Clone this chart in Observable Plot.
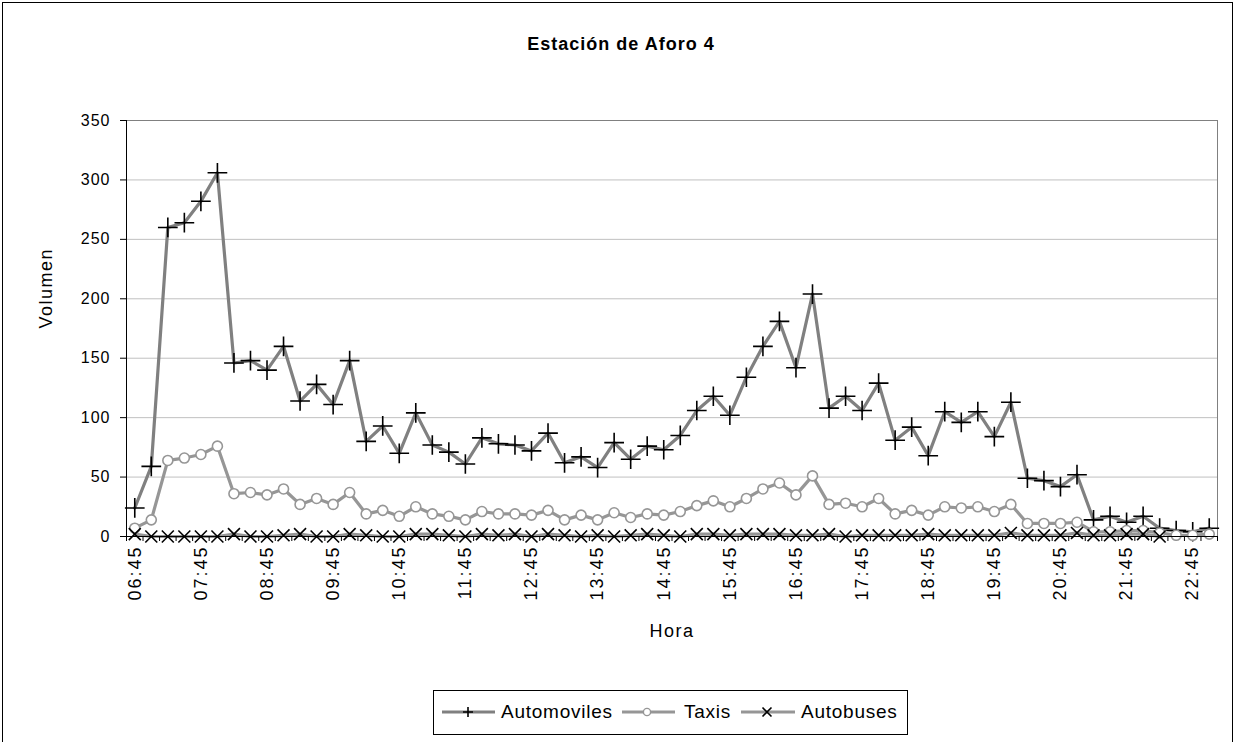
<!DOCTYPE html>
<html><head><meta charset="utf-8">
<script src="https://cdn.jsdelivr.net/npm/d3@7"></script>
<script src="https://cdn.jsdelivr.net/npm/@observablehq/plot@0.6"></script>
<style>
html,body{margin:0;padding:0;background:#fff;overflow:hidden;}
#wrap{position:relative;width:1236px;height:742px;font-family:"Liberation Sans",Arial,sans-serif;}
#frame{position:absolute;left:2px;top:2px;width:1229px;height:760px;border:1px solid #000;}
#title{position:absolute;left:0;width:1242px;top:34px;text-align:center;font-size:18px;font-weight:bold;letter-spacing:1px;}
#chart{position:absolute;left:0;top:0;}
#legend{position:absolute;left:433px;top:690px;}
#chart svg [aria-label="y-axis tick label"] text{letter-spacing:1px;}
#chart svg [aria-label="x-axis tick label"] text{letter-spacing:2px;}
#chart svg [aria-label="text"] text{letter-spacing:1.5px;}
</style></head>
<body>
<div id="wrap">
  <div id="frame"></div>
  <div id="title">Estación de Aforo 4</div>
  <div id="chart"></div>
  <div id="legend">
    <svg width="476" height="46" font-family="Liberation Sans, Arial, sans-serif">
      <rect x="0.5" y="0.5" width="474" height="44" fill="#fff" stroke="#000"/>
      <line x1="9" x2="62" y1="22" y2="22" stroke="#808080" stroke-width="3.2"/>
      <path d="M30,22h10M35,17v10" stroke="#000" stroke-width="1.6" fill="none"/>
      <text x="68" y="28" font-size="19" letter-spacing="0.75">Automoviles</text>
      <line x1="189" x2="242" y1="22" y2="22" stroke="#969696" stroke-width="3.2"/>
      <circle cx="214" cy="22" r="3.6" fill="#fff" stroke="#969696" stroke-width="1.4"/>
      <text x="251" y="28" font-size="19" letter-spacing="0.75">Taxis</text>
      <line x1="308" x2="362" y1="22" y2="22" stroke="#969696" stroke-width="3.2"/>
      <path d="M329.5,17.5l9,9M338.5,17.5l-9,9" stroke="#000" stroke-width="1.6" fill="none"/>
      <text x="368" y="28" font-size="19" letter-spacing="0.75">Autobuses</text>
    </svg>
  </div>
</div>
<script>
const times = ["06:45","07:00","07:15","07:30","07:45","08:00","08:15","08:30","08:45","09:00","09:15","09:30","09:45","10:00","10:15","10:30","10:45","11:00","11:15","11:30","11:45","12:00","12:15","12:30","12:45","13:00","13:15","13:30","13:45","14:00","14:15","14:30","14:45","15:00","15:15","15:30","15:45","16:00","16:15","16:30","16:45","17:00","17:15","17:30","17:45","18:00","18:15","18:30","18:45","19:00","19:15","19:30","19:45","20:00","20:15","20:30","20:45","21:00","21:15","21:30","21:45","22:00","22:15","22:30","22:45","23:00"];
const xTickLabels = ["06:45","07:45","08:45","09:45","10:45","11:45","12:45","13:45","14:45","15:45","16:45","17:45","18:45","19:45","20:45","21:45","22:45"];
const yTicks = [0,50,100,150,200,250,300,350];
const automoviles = [24,59,260,264,282,306,146,148,140,160,114,128,111,148,80,93,70,104,77,71,61,83,78,77,72,87,62,67,58,79,65,76,73,85,106,118,102,134,160,181,142,204,108,118,106,129,81,92,68,105,96,105,84,113,49,47,42,52,14,17,12,17,7,5,4,7];
const taxis = [7,14,64,66,69,76,36,37,35,40,27,32,27,37,19,22,17,25,19,17,14,21,19,19,18,22,14,18,14,20,16,19,18,21,26,30,25,32,40,45,35,51,27,28,25,32,19,22,18,25,24,25,21,27,11,11,11,12,4,4,5,5,3,1,1,2];
const autobuses = [2,0,0,0,0,0,2,0,0,1,2,0,0,2,1,0,0,2,2,1,0,2,1,2,0,2,1,0,1,0,1,2,1,0,2,2,1,2,2,2,1,1,2,0,1,1,1,1,2,1,1,1,1,3,1,1,1,3,1,1,2,2,0,null,null,null];

const mk = arr => arr.map((v, i) => ({i, v}));
const A = mk(automoviles), T = mk(taxis), B = mk(autobuses).filter(d => d.v != null);
const n = times.length;
const boundaries = d3.range(n + 1).map(k => k - 0.5);
const labelIdx = xTickLabels.map(t => times.indexOf(t));

const chart = Plot.plot({
  width: 1236, height: 742,
  marginLeft: 126, marginRight: 19, marginTop: 120, marginBottom: 206,
  style: {fontFamily: '"Liberation Sans", Arial, sans-serif', background: "transparent", color: "#000"},
  x: {type: "linear", domain: [-0.5, n - 0.5]},
  y: {domain: [0, 350]},
  marks: [
    Plot.gridY({ticks: [50,100,150,200,250,300], stroke: "#c0c0c0", strokeOpacity: 1}),
    Plot.ruleY([350], {stroke: "#808080"}),
    Plot.ruleX([n - 0.5], {stroke: "#808080"}),
    Plot.line(A, {x: "i", y: "v", stroke: "#808080", strokeWidth: 3.2}),
    Plot.dot(A, {x: "i", y: "v", symbol: "plus", r: 6.4, stroke: "#000", strokeWidth: 1.6}),
    Plot.line(T, {x: "i", y: "v", stroke: "#969696", strokeWidth: 3.2}),
    Plot.dot(T, {x: "i", y: "v", r: 5, fill: "#fff", stroke: "#969696", strokeWidth: 1.6}),
    Plot.line(B, {x: "i", y: "v", stroke: "#969696", strokeWidth: 3.2}),
    Plot.dot(B, {x: "i", y: "v", symbol: "times", r: 5.5, stroke: "#000", strokeWidth: 1.6}),
    Plot.ruleX([-0.5], {stroke: "#000"}),
    Plot.ruleY([0], {stroke: "#000"}),
    Plot.axisY({ticks: yTicks, tickSize: 6, tickPadding: 10, fontSize: 16, label: null}),
    Plot.axisX({ticks: boundaries, tickSize: 5, tickFormat: () => "", label: null}),
    Plot.axisX({ticks: labelIdx, tickSize: 0, tickPadding: 9, tickRotate: -90, fontSize: 18, tickFormat: i => times[i], label: null}),
    Plot.text(["Volumen"], {text: d => d, frameAnchor: "left", dx: -80, rotate: -90, fontSize: 18}),
    Plot.text(["Hora"], {text: d => d, frameAnchor: "bottom", dy: 100, fontSize: 18})
  ]
});
document.getElementById("chart").appendChild(chart);
</script>
</body></html>
